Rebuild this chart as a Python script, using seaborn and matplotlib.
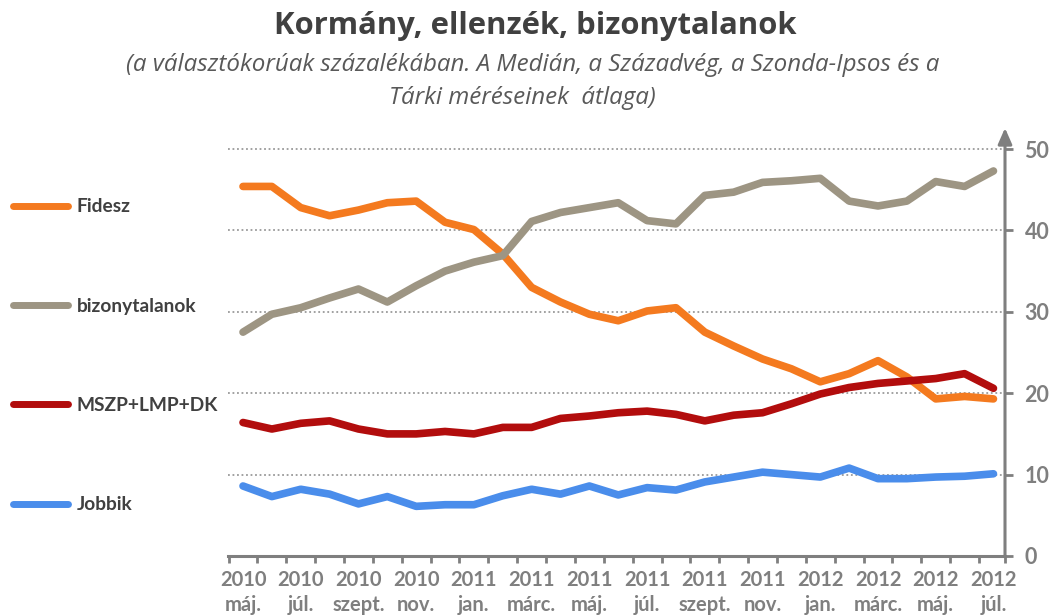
import numpy as np
import pandas as pd
import matplotlib
matplotlib.use("Agg")
import matplotlib.pyplot as plt
import seaborn as sns

# ---- data ----
months = ["máj.", "jún.", "júl.", "aug.", "szept.", "okt.", "nov.", "dec.",
          "jan.", "febr.", "márc.", "ápr.", "máj.", "jún.", "júl.", "aug.",
          "szept.", "okt.", "nov.", "dec.", "jan.", "febr.", "márc.", "ápr.",
          "máj.", "jún.", "júl."]
years = [2010] * 8 + [2011] * 12 + [2012] * 7

fidesz = [45.4, 45.4, 42.8, 41.8, 42.5, 43.4, 43.6, 41.0, 40.1, 37.1, 33.0,
          31.2, 29.7, 28.9, 30.1, 30.5, 27.5, 25.8, 24.2, 23.0, 21.4, 22.4,
          24.0, 22.0, 19.3, 19.6, 19.3]
bizonytalan = [27.5, 29.7, 30.5, 31.7, 32.8, 31.2, 33.2, 35.0, 36.1, 36.9,
               41.1, 42.2, 42.8, 43.4, 41.2, 40.8, 44.3, 44.7, 45.9, 46.1,
               46.4, 43.6, 43.0, 43.6, 46.0, 45.4, 47.3]
baloldal = [16.4, 15.6, 16.3, 16.6, 15.6, 15.0, 15.0, 15.3, 15.0, 15.8, 15.8,
            16.9, 17.2, 17.6, 17.8, 17.4, 16.6, 17.3, 17.6, 18.7, 19.9, 20.7,
            21.2, 21.5, 21.8, 22.4, 20.6]
jobbik = [8.6, 7.3, 8.2, 7.6, 6.4, 7.3, 6.1, 6.3, 6.3, 7.4, 8.2, 7.6, 8.6,
          7.5, 8.4, 8.1, 9.1, 9.7, 10.3, 10.0, 9.7, 10.8, 9.5, 9.5, 9.7, 9.8,
          10.1]

series_names = ["Fidesz", "bizonytalanok", "MSZP+LMP+DK", "Jobbik"]
series_values = [fidesz, bizonytalan, baloldal, jobbik]
colors = ["#F47A1F", "#9D9583", "#B20D0D", "#4A8DEB"]
yticks = [0, 10, 20, 30, 40, 50]

# ---- long-form frame ----
rows = []
for name, vals in zip(series_names, series_values):
    for i, v in enumerate(vals):
        rows.append({"idx": i, "value": v, "series": name})
df = pd.DataFrame(rows)

sns.set_theme(style="white")
plt.rcParams["font.family"] = ["Lato", "DejaVu Sans"]

W, H = 1051, 616
fig = plt.figure(figsize=(W / 100, H / 100), dpi=100)
left_px, right_px, top_px, bot_px = 228, 1005, 128, 556
ax = fig.add_axes([left_px / W, 1 - bot_px / H,
                   (right_px - left_px) / W, (bot_px - top_px) / H])

sns.lineplot(data=df, x="idx", y="value", hue="series", hue_order=series_names,
             palette=colors, linewidth=5.5, sort=False, ax=ax,
             solid_capstyle="round", solid_joinstyle="round", legend=True)

ytop = 50 * (bot_px - top_px) / (bot_px - 149)
ax.set_ylim(0, ytop)
ax.set_xlim(-0.52, 26.4)

# grid lines
for g in yticks[1:]:
    ax.axhline(g, color="#9A9A9A", linestyle=(0, (1, 1.5)), linewidth=1.3, zorder=0)

axis_col = "#7F7F7F"
for s in ["left", "top", "right"]:
    ax.spines[s].set_visible(False)
ax.spines["bottom"].set_color(axis_col)
ax.spines["bottom"].set_linewidth(2.2)
# right axis with arrow
ax.annotate("", xy=(1, 1), xytext=(1, 0), xycoords="axes fraction",
            arrowprops=dict(arrowstyle="-|>,head_length=0.8,head_width=0.35",
                            color=axis_col, lw=2.2, shrinkA=0, shrinkB=0))

ax.yaxis.tick_right()
ax.set_yticks(yticks)
ax.set_yticklabels([str(t) for t in yticks])
ax.tick_params(axis="y", which="major", direction="out", length=6, width=2,
               color=axis_col, labelsize=15.5, labelcolor="#7F7F7F", pad=8)
for lab in ax.get_yticklabels():
    lab.set_fontweight("bold")

major = list(range(0, 27, 2))
ax.set_xticks(major)
ax.set_xticklabels([f"{years[i]}\n{months[i]}" for i in major])
ax.set_xticks([k + 0.5 for k in range(-1, 26)] + [26.4], minor=True)
ax.tick_params(axis="x", which="major", length=0, labelsize=14.5,
               labelcolor="#7F7F7F", pad=10)
ax.tick_params(axis="x", which="minor", direction="out", length=5, width=2,
               color=axis_col, bottom=True)
for lab in ax.get_xticklabels():
    lab.set_fontweight("bold")
    lab.set_linespacing(1.3)
ax.set_xlabel("")
ax.set_ylabel("")

# legend on the left
handles, labels = ax.get_legend_handles_labels()
ax.get_legend().remove()
leg = fig.legend(handles, labels, loc="upper left",
                 bbox_to_anchor=(-4 / W, 1 - 181 / H), frameon=False,
                 handlelength=2.85, handletextpad=0.45, labelspacing=4.3,
                 prop={"size": 13.8, "weight": "bold"})
for t in leg.get_texts():
    t.set_color("#404040")
for h in leg.get_lines():
    h.set_linewidth(5)
    h.set_solid_capstyle("round")

# titles
fig.text(535 / W, 1 - 26 / H, "Kormány, ellenzék, bizonytalanok",
         ha="center", va="center", fontsize=22.3, fontweight="bold", color="#404040",
         family=["Open Sans", "DejaVu Sans"])
fig.text(533 / W, 1 - 65 / H,
         "(a választókorúak százalékában. A Medián, a Századvég, a Szonda-Ipsos és a",
         ha="center", va="center", fontsize=17.4, style="italic", color="#595959",
         family=["Open Sans", "DejaVu Sans"])
fig.text(522 / W, 1 - 98 / H, "Tárki méréseinek  átlaga)",
         ha="center", va="center", fontsize=17.4, style="italic", color="#595959",
         family=["Open Sans", "DejaVu Sans"])

fig.savefig("out.png", dpi=100)
